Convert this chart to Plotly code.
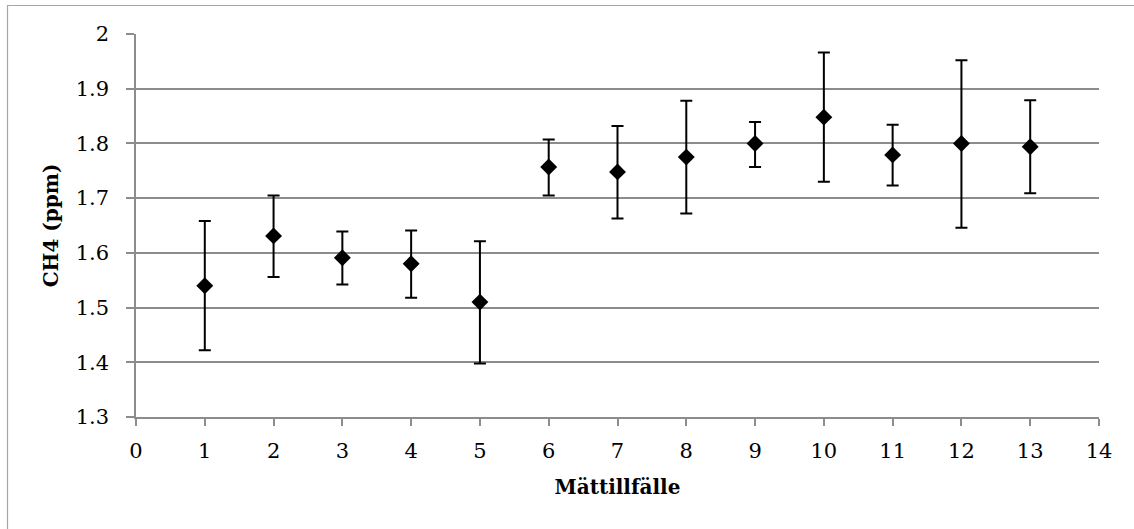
import plotly.graph_objects as go

# Measurement occasions and CH4 concentrations (ppm)
occasions = [1, 2, 3, 4, 5, 6, 7, 8, 9, 10, 11, 12, 13]
ch4_mean = [1.540, 1.631, 1.591, 1.580, 1.510, 1.757, 1.748, 1.775, 1.800, 1.848, 1.779, 1.800, 1.794]
ch4_upper = [1.658, 1.705, 1.639, 1.641, 1.621, 1.807, 1.832, 1.878, 1.839, 1.966, 1.834, 1.952, 1.879]
ch4_lower = [1.422, 1.556, 1.542, 1.518, 1.398, 1.705, 1.663, 1.672, 1.757, 1.730, 1.723, 1.646, 1.709]

x_ticks = list(range(0, 15))
y_ticks = [1.3, 1.4, 1.5, 1.6, 1.7, 1.8, 1.9, 2.0]
y_tick_text = ["1.3", "1.4", "1.5", "1.6", "1.7", "1.8", "1.9", "2"]

err_plus = [u - m for u, m in zip(ch4_upper, ch4_mean)]
err_minus = [m - l for m, l in zip(ch4_mean, ch4_lower)]

FONT = "DejaVu Serif"
GRID = "#8c8c8c"

fig = go.Figure()
fig.add_trace(go.Scatter(
    x=occasions,
    y=ch4_mean,
    mode="markers",
    marker=dict(symbol="diamond", size=13, color="black"),
    error_y=dict(
        type="data",
        symmetric=False,
        array=err_plus,
        arrayminus=err_minus,
        color="black",
        thickness=2,
        width=6,
    ),
    showlegend=False,
))

W, H = 1134, 529
ml, mr, mt, mb = 136, 35, 34, 112
pw, ph = W - ml - mr, H - mt - mb

def px_to_paper_x(px):
    return (px - ml) / pw

def px_to_paper_y(py):
    return 1 - (py - mt) / ph

fig.update_layout(
    width=W,
    height=H,
    margin=dict(l=ml, r=mr, t=mt, b=mb, pad=0),
    paper_bgcolor="white",
    plot_bgcolor="white",
    font=dict(family=FONT, size=21, color="black"),
    xaxis=dict(
        range=[0, 14],
        tickvals=x_ticks,
        ticks="outside",
        ticklen=7,
        tickwidth=1.5,
        tickcolor=GRID,
        showline=True,
        linecolor=GRID,
        linewidth=1.5,
        showgrid=False,
        zeroline=False,
        ticklabelstandoff=7,
        tickfont=dict(family=FONT, size=21, color="black"),
        title=dict(text="<b>Mättillfälle</b>", font=dict(family=FONT, size=20, color="black"), standoff=18),
    ),
    yaxis=dict(
        range=[1.3, 2.0],
        tickvals=y_ticks,
        ticktext=y_tick_text,
        ticks="outside",
        ticklen=8,
        tickwidth=1.5,
        tickcolor=GRID,
        showline=True,
        linecolor=GRID,
        linewidth=1.5,
        showgrid=True,
        gridcolor=GRID,
        gridwidth=1.5,
        zeroline=False,
        ticklabelstandoff=13,
        tickfont=dict(family=FONT, size=21, color="black"),
        title=dict(text="<b>CH4 (ppm)</b>", font=dict(family=FONT, size=20, color="black"), standoff=12),
    ),
    shapes=[
        # chart-area frame
        dict(type="line", xref="paper", yref="paper",
             x0=px_to_paper_x(7), x1=px_to_paper_x(W + 5),
             y0=px_to_paper_y(5.5), y1=px_to_paper_y(5.5),
             line=dict(color="#a6a6a6", width=1.2)),
        dict(type="line", xref="paper", yref="paper",
             x0=px_to_paper_x(7.5), x1=px_to_paper_x(7.5),
             y0=px_to_paper_y(5), y1=px_to_paper_y(H + 5),
             line=dict(color="#a6a6a6", width=1.2)),
    ],
)

fig.write_html("out.html")
